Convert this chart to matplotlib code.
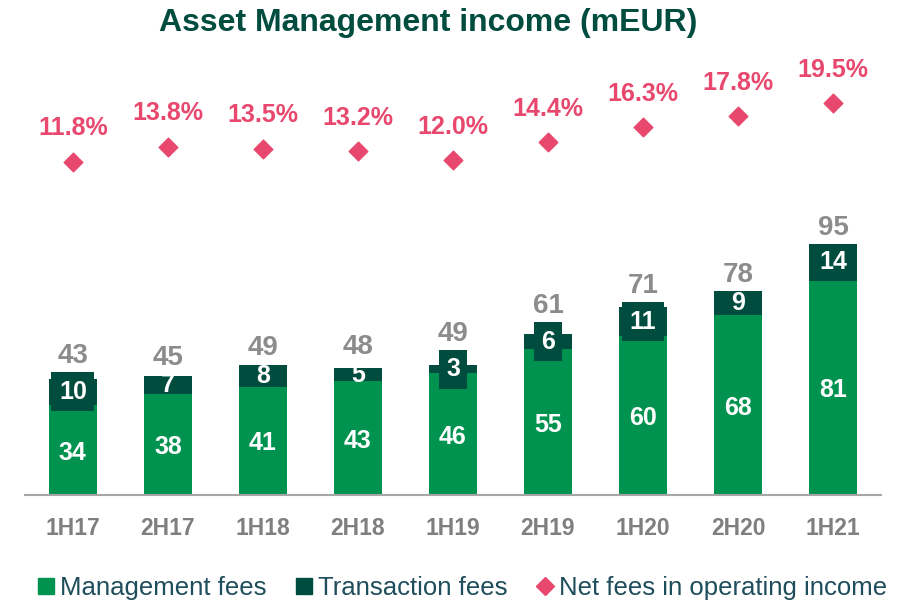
import numpy as np
import matplotlib.pyplot as plt
from matplotlib.lines import Line2D

plt.rcParams['font.family'] = ['Liberation Sans', 'DejaVu Sans']

periods = ["1H17", "2H17", "1H18", "2H18", "1H19", "2H19", "1H20", "2H20", "1H21"]
mgmt_fees = [34, 38, 41, 43, 46, 55, 60, 68, 81]
trans_fees = [10, 7, 8, 5, 3, 6, 11, 9, 14]
totals = [43, 45, 49, 48, 49, 61, 71, 78, 95]
net_fee_share = [11.8, 13.8, 13.5, 13.2, 12.0, 14.4, 16.3, 17.8, 19.5]
boxed = [True, False, False, False, True, True, True, False, False]

GREEN = "#00924F"
DARK = "#004C3F"
PINK = "#E8486E"
GREY = "#8C8C8C"
TEXT = "#1E4D5C"

fig = plt.figure(figsize=(9.05, 6.03), dpi=100)
ax = fig.add_axes([0.028, 0.179, 0.945, 0.72])
x = np.arange(len(periods))

ax.bar(x, mgmt_fees, width=0.5, color=GREEN, zorder=2)
ax.bar(x, trans_fees, width=0.5, bottom=mgmt_fees, color=DARK, zorder=2)

for i in range(len(x)):
    ax.text(x[i], mgmt_fees[i] / 2 - 1, str(mgmt_fees[i]), ha='center', va='center',
            color='white', fontsize=18, fontweight='bold', zorder=4)
    mid = mgmt_fees[i] + trans_fees[i] / 2
    bb = dict(boxstyle='square,pad=0.3', fc=DARK, ec='none') if boxed[i] else None
    ax.text(x[i], mid, str(trans_fees[i]), ha='center', va='center',
            color='white', fontsize=18, fontweight='bold', zorder=4, bbox=bb)
    # total sits above the bar, or above the label box where it sticks out
    top = max(mgmt_fees[i] + trans_fees[i], mid + 4.5)
    if boxed[i]:
        top = max(top, mid + 7.5)
    ax.annotate(str(totals[i]), (x[i], top), xytext=(0, 2), textcoords='offset points',
                ha='center', va='bottom', color=GREY, fontsize=20, fontweight='bold')

ax.set_xlim(-0.5, len(x) - 0.5)
ax.set_ylim(0, 164)
ax.set_yticks([])
ax.set_xticks(x)
ax.set_xticklabels(periods, fontsize=16.5, fontweight='bold', color="#7F7F7F")
ax.tick_params(axis='x', length=0, pad=16)
for s in ['top', 'right', 'left']:
    ax.spines[s].set_visible(False)
ax.spines['bottom'].set_color("#A6A6A6")
ax.spines['bottom'].set_linewidth(1.5)

ax2 = ax.twinx()
ax2.scatter(x, net_fee_share, marker='D', s=90, color=PINK, zorder=3)
for i in range(len(x)):
    ax2.annotate(f"{net_fee_share[i]:.1f}%", (x[i], net_fee_share[i]), xytext=(0, 24),
                 textcoords='offset points', ha='center', va='center', color=PINK,
                 fontsize=18, fontweight='bold')
ax2.set_ylim(-31.8, 25.0)
ax2.axis('off')

fig.text(0.473, 0.962, "Asset Management income (mEUR)", ha='center', va='center',
         fontsize=23, fontweight='bold', color=DARK)

handles = [
    Line2D([], [], marker='s', ls='none', color=GREEN, markersize=11),
    Line2D([], [], marker='s', ls='none', color=DARK, markersize=11),
    Line2D([], [], marker='D', ls='none', color=PINK, markersize=9),
]
leg = fig.legend(handles, ["Management fees", "Transaction fees", "Net fees in operating income"],
                 loc='center', bbox_to_anchor=(0.508, 0.025), ncol=3, frameon=False,
                 fontsize=18.5, handletextpad=0.0, columnspacing=0.9, handlelength=1.1)
for t in leg.get_texts():
    t.set_color(TEXT)

fig.savefig("out.png", dpi=100)
